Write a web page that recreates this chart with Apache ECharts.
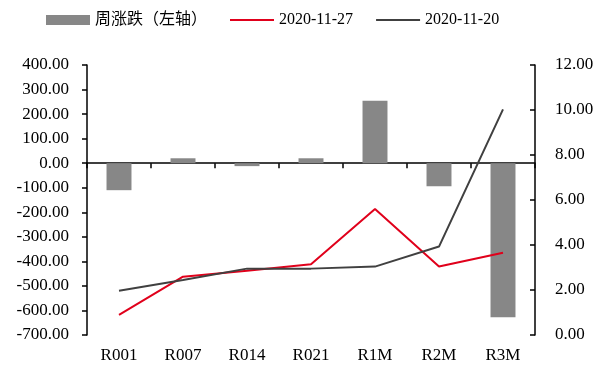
<!DOCTYPE html>
<html><head><meta charset="utf-8">
<script src="https://cdn.jsdelivr.net/npm/echarts@6/dist/echarts.min.js"></script>
<style>html,body{margin:0;padding:0;background:#fff}#c{width:600px;height:367px}</style>
</head><body><div id="c"></div>
<script>
var categories = ['R001','R007','R014','R021','R1M','R2M','R3M'];
var weeklyChange = [-110, 20, -12, 20, 254, -94, -628];
var rate1127 = [0.89, 2.59, 2.86, 3.14, 5.6, 3.04, 3.66];
var rate1120 = [1.97, 2.44, 2.95, 2.95, 3.04, 3.93, 10.03];
var seriesNames = ['周涨跌（左轴）', '2020-11-27', '2020-11-20'];

var font = '"Liberation Serif", "Times New Roman", "Noto Sans CJK SC", serif';
var chart = echarts.init(document.getElementById('c'), null, {renderer:'canvas'});
var fmt = function(v){ return v.toFixed(2); };
chart.setOption({
  animation:false,
  textStyle:{fontFamily:font},
  legend:{
    top:7, left:41, itemGap:22, itemWidth:44, itemHeight:10,
    textStyle:{fontFamily:font, fontSize:16, color:'#000'},
    data:[
      {name:seriesNames[0], icon:'rect'},
      {name:seriesNames[1], itemStyle:{opacity:0}},
      {name:seriesNames[2], itemStyle:{opacity:0}}
    ]
  },
  grid:{left:87, right:65, top:65, bottom:32},
  xAxis:[{
    type:'category', data:categories, position:'bottom',
    axisLine:{onZero:true, lineStyle:{color:'#000', width:1.5}},
    axisTick:{show:true, inside:false, length:5, lineStyle:{color:'#000', width:1.5}},
    axisLabel:{show:false}
  },{
    type:'category', data:categories, position:'bottom',
    axisLine:{show:false, onZero:false}, axisTick:{show:false},
    axisLabel:{show:true, color:'#000', fontSize:17, fontFamily:font, margin:12}
  }],
  yAxis:[{
    type:'value', min:-700, max:400, interval:100, position:'left',
    axisLine:{show:true, lineStyle:{color:'#000', width:1.5}},
    axisTick:{show:true, length:5, lineStyle:{color:'#000', width:1.5}},
    splitLine:{show:false},
    axisLabel:{formatter:fmt, color:'#000', fontSize:17, fontFamily:font, margin:18}
  },{
    type:'value', min:0, max:12, interval:2, position:'right',
    axisLine:{show:true, lineStyle:{color:'#000', width:1.5}},
    axisTick:{show:true, inside:true, length:5, lineStyle:{color:'#000', width:1.5}},
    splitLine:{show:false},
    axisLabel:{formatter:fmt, color:'#000', fontSize:17, fontFamily:font, margin:20}
  }],
  series:[{
    name:seriesNames[0], type:'bar', data:weeklyChange, xAxisIndex:0, yAxisIndex:0,
    barWidth:'39%', itemStyle:{color:'#878787'}
  },{
    name:seriesNames[1], type:'line', data:rate1127, xAxisIndex:0, yAxisIndex:1,
    symbol:'none', lineStyle:{color:'#e0001b', width:2}, itemStyle:{color:'#e0001b'}
  },{
    name:seriesNames[2], type:'line', data:rate1120, xAxisIndex:0, yAxisIndex:1,
    symbol:'none', lineStyle:{color:'#404040', width:2}, itemStyle:{color:'#404040'}
  }]
});
</script></body></html>
